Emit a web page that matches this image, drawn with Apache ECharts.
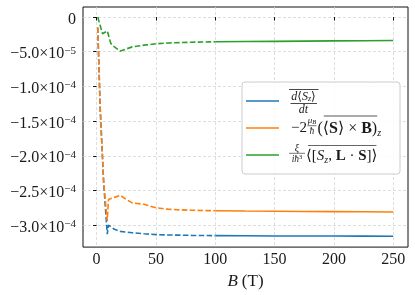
<!DOCTYPE html>
<html><head><meta charset="utf-8">
<script src="https://cdn.jsdelivr.net/npm/echarts@6/dist/echarts.min.js"></script>
<style>html,body{margin:0;padding:0;background:#fff}#c{width:415px;height:295px}</style>
</head><body><div id="c"></div>
<script>
// ---- data ----
const bDashBlue = [1, 3, 6, 9, 10, 15, 20, 25, 30, 40, 50, 60, 70, 80, 90, 100];
const vDashBlue = [-1.5e-5, -1.3e-4, -2.4e-4, -3.13e-4, -3.0e-4, -3.06e-4, -3.09e-4, -3.10e-4, -3.11e-4, -3.125e-4, -3.137e-4, -3.142e-4, -3.145e-4, -3.148e-4, -3.15e-4, -3.152e-4];
const bDashOrange = [1, 3, 6, 9, 10, 15, 20, 25, 30, 40, 50, 60, 70, 80, 90, 100];
const vDashOrange = [-1.5e-5, -1.3e-4, -2.4e-4, -2.94e-4, -2.63e-4, -2.60e-4, -2.57e-4, -2.63e-4, -2.68e-4, -2.70e-4, -2.75e-4, -2.77e-4, -2.78e-4, -2.785e-4, -2.79e-4, -2.792e-4];
const bDashGreen = [1, 5, 9, 12, 15, 20, 25, 30, 40, 50, 60, 70, 80, 90, 100];
const vDashGreen = [0, -2.4e-5, -2.0e-5, -3.8e-5, -4.3e-5, -4.9e-5, -4.6e-5, -4.3e-5, -4.05e-5, -3.86e-5, -3.75e-5, -3.68e-5, -3.63e-5, -3.6e-5, -3.57e-5];
const bSolid = [100, 125, 150, 175, 200, 225, 250];
const vSolidBlue = [-3.152e-4, -3.154e-4, -3.156e-4, -3.157e-4, -3.158e-4, -3.159e-4, -3.16e-4];
const vSolidOrange = [-2.792e-4, -2.797e-4, -2.80e-4, -2.803e-4, -2.806e-4, -2.808e-4, -2.81e-4];
const vSolidGreen = [-3.57e-5, -3.53e-5, -3.50e-5, -3.47e-5, -3.44e-5, -3.41e-5, -3.39e-5];
const seriesNames = ['dSz/dt', '-2 muB/hbar (<S> x B)_z', 'xi/(i hbar^3) <[Sz, L.S]>'];
const xTicks = [0, 50, 100, 150, 200, 250];
const yTicks = [0, -5e-5, -1e-4, -1.5e-4, -2e-4, -2.5e-4, -3e-4];
const yTickMant = ['0', '−5.0', '−1.0', '−1.5', '−2.0', '−2.5', '−3.0'];
const yTickExp = ['', '−5', '−4', '−4', '−4', '−4', '−4'];

// ---- style ----
const FF = "'Liberation Serif', 'DejaVu Serif', serif";
const COL = ['#1f77b4', '#ff7f0e', '#2ca02c'];
const INK = '#1a1a1a';
const LW = 1.6;
const DASH = [5.5, 2.4];

function pts(b, v) { return b.map((x, i) => [x, v[i]]); }
function line(name, data, color, dashed) {
  return {
    name, type: 'line', data, symbol: 'none', showSymbol: false, silent: true,
    lineStyle: { color, width: LW, type: dashed ? DASH : 'solid' },
    itemStyle: { color }, z: 2
  };
}

const series = [
  line('_bd', pts(bDashBlue, vDashBlue), COL[0], true),
  line(seriesNames[0], pts(bSolid, vSolidBlue), COL[0], false),
  line('_od', pts(bDashOrange, vDashOrange), COL[1], true),
  line(seriesNames[1], pts(bSolid, vSolidOrange), COL[1], false),
  line('_gd', pts(bDashGreen, vDashGreen), COL[2], true),
  line(seriesNames[2], pts(bSolid, vSolidGreen), COL[2], false)
];

// ---- legend math overlay ----
const ctx = document.createElement('canvas').getContext('2d');
function measure(t) {
  ctx.font = (t.st || 'normal') + ' ' + (t.w || 'normal') + ' ' + t.sz + 'px ' + FF;
  return ctx.measureText(t.t).width;
}
const G = [];
function run(x0, y, toks, center) {
  const ws = toks.map(measure);
  let total = ws.reduce((a, b) => a + b, 0);
  let x = center ? x0 - total / 2 : x0;
  const pos = [];
  toks.forEach((t, i) => {
    pos.push([x, x + ws[i]]);
    G.push({ type: 'text', x: x, y: y + (t.dy || 0), z: 100, silent: true,
      style: { text: t.t, fontSize: t.sz, fontFamily: FF, fontStyle: t.st || 'normal',
        fontWeight: t.w || 'normal', fill: INK, align: 'left', verticalAlign: 'middle' } });
    x += ws[i];
  });
  return pos;
}
function hline(x1, x2, y, c, w) {
  G.push({ type: 'line', z: 100, silent: true, shape: { x1, y1: y, x2, y2: y },
    style: { stroke: c || INK, lineWidth: w || 0.8 } });
}

const LEG_LEFT = 242, LEG_TOP = 82, PAD_T = 6, ROW_H = 26, GAP = 1;
const cy = [0, 1, 2].map(k => LEG_TOP + PAD_T + ROW_H / 2 + k * (ROW_H + GAP));
const TX = 289;

// entry 1: overline{ d<S_z> / dt }
(function () {
  const c = TX + 14.5, y = cy[0] + 0.5;
  run(c, y - 5, [
    { t: 'd', st: 'italic', sz: 12 }, { t: '⟨', sz: 12 }, { t: 'S', st: 'italic', sz: 12 },
    { t: 'z', st: 'italic', sz: 8, dy: 2.5 }, { t: '⟩', sz: 12 }], true);
  hline(TX + 1.5, TX + 28, y + 2);
  run(c, y + 8, [{ t: 'dt', st: 'italic', sz: 12 }], true);
  hline(TX, TX + 29.5, y - 12);
})();
// entry 2: -2 (mu_B / hbar) overline{(<S> x B)}_z
(function () {
  const y = cy[1] + 0.5;
  const p1 = run(TX + 2, y, [{ t: '−2', sz: 15 }]);
  const fx = p1[0][1] + 5;
  run(fx, y - 7.5, [{ t: 'μ', st: 'italic', sz: 9 }, { t: 'B', st: 'italic', sz: 6.5, dy: 1.5 }], true);
  hline(fx - 4.5, fx + 4.5, y - 2.8, INK, 0.6);
  run(fx, y + 2.5, [{ t: 'ħ', st: 'italic', sz: 9.5 }], true);
  const p = run(fx + 5.5, y, [
    { t: '(', sz: 16 }, { t: '⟨', sz: 16 }, { t: 'S', w: 'bold', sz: 16 }, { t: '⟩', sz: 16 },
    { t: ' × ', sz: 16 }, { t: 'B', w: 'bold', sz: 16 }, { t: ')', sz: 16 },
    { t: 'z', st: 'italic', sz: 10, dy: 4.5 }]);
  hline(p[1][0] + 1, p[6][1], y - 12.5, '#444', 0.9);
})();
// entry 3: xi / (i hbar^3) overline{<[S_z, L.S]>}
(function () {
  const y = cy[2] + 1;
  const c = TX + 8;
  run(c, y - 7.5, [{ t: 'ξ', st: 'italic', sz: 10 }], true);
  hline(TX, TX + 16, y - 2.7, INK, 0.6);
  run(c, y + 3.5, [{ t: 'iħ', st: 'italic', sz: 9.5 }, { t: '3', sz: 6.5, dy: -2.5 }], true);
  const p = run(TX + 17, y, [
    { t: '⟨', sz: 15 }, { t: '[', sz: 15 }, { t: 'S', st: 'italic', sz: 15 },
    { t: 'z', st: 'italic', sz: 10, dy: 4 }, { t: ', ', sz: 15 }, { t: 'L', w: 'bold', sz: 15 },
    { t: ' · ', sz: 15 }, { t: 'S', w: 'bold', sz: 15 }, { t: ']', sz: 15 }, { t: '⟩', sz: 15 }]);
  hline(p[0][0] + 2, p[9][1] - 1, y - 10.5, '#555', 0.9);
})();

function yLabel(v) {
  let i = yTicks.findIndex(t => Math.abs(t - v) < 1e-12);
  if (i < 0) return '';
  return yTickExp[i] ? '{m|' + yTickMant[i] + '×10}{e|' + yTickExp[i] + '}' : '{m|' + yTickMant[i] + '}';
}

const chart = echarts.init(document.getElementById('c'), null, { renderer: 'canvas' });
chart.setOption({
  animation: false,
  backgroundColor: '#fff',
  grid: { left: 83, right: 7, top: 7, bottom: 45, show: true, borderColor: '#111', borderWidth: 1, backgroundColor: 'transparent' },
  xAxis: {
    type: 'value', min: -11.45, max: 262.45, splitNumber: 5,
    axisLine: { show: false },
    axisTick: { show: true, length: 3.5, lineStyle: { color: '#111', width: 1 }, customValues: xTicks },
    axisLabel: { customValues: xTicks, fontFamily: FF, fontSize: 16, color: INK, margin: 5, formatter: v => String(v) },
    splitLine: { show: true, lineStyle: { color: '#d6d6d6', type: [3, 2], width: 0.8 } },
    name: '{i|B} {r|(T)}', nameLocation: 'middle', nameGap: 22,
    nameTextStyle: { fontFamily: FF, fontSize: 16, color: INK,
      rich: { i: { fontFamily: FF, fontSize: 17, fontStyle: 'italic', color: INK }, r: { fontFamily: FF, fontSize: 17, color: INK } } }
  },
  yAxis: {
    type: 'value', min: -3.317e-4, max: 1.45e-5, splitNumber: 7,
    axisLine: { show: false },
    axisTick: { show: true, length: 3.5, lineStyle: { color: '#111', width: 1 }, customValues: yTicks },
    axisLabel: { customValues: yTicks, margin: 7, formatter: yLabel, padding: [5, 0, 0, 0],
      rich: { m: { fontFamily: FF, fontSize: 16, color: INK, lineHeight: 18 },
              e: { fontFamily: FF, fontSize: 11, color: INK, verticalAlign: 'top', lineHeight: 11 } } },
    splitLine: { show: true, lineStyle: { color: '#d6d6d6', type: [3, 2], width: 0.8 } }
  },
  legend: {
    data: seriesNames.map(n => ({ name: n, icon: 'rect' })), orient: 'vertical', left: LEG_LEFT, top: LEG_TOP,
    padding: [PAD_T, 10, 6, 4], itemGap: GAP, itemWidth: 33, itemHeight: 1.6,
    backgroundColor: 'rgba(255,255,255,0.85)', borderColor: '#cccccc', borderWidth: 1, borderRadius: 3,
    selectedMode: false,
    formatter: () => '{s|}',
    textStyle: { rich: { s: { width: 106, height: ROW_H, lineHeight: ROW_H } } }
  },
  graphic: G,
  series
});
</script></body></html>
